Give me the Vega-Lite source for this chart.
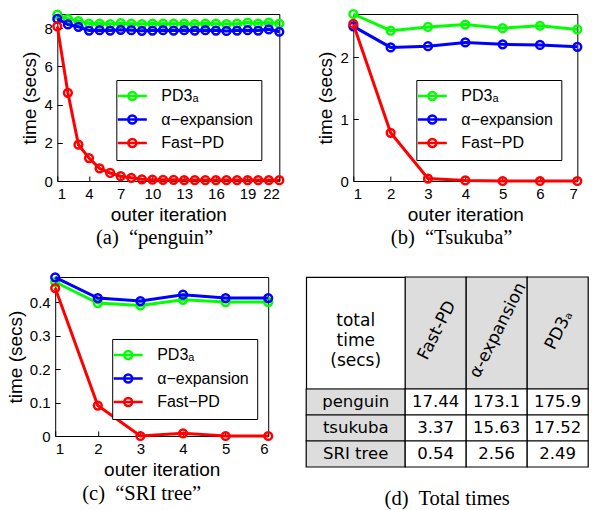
{
  "$schema": "https://vega.github.io/schema/vega-lite/v6.json",
  "background": "white",
  "padding": {"left": 5, "top": 4, "right": 0, "bottom": 0},
  "config": {
    "font": "Liberation Sans",
    "view": {"stroke": "black", "strokeWidth": 1},
    "axis": {
      "labelFont": "Liberation Sans", "labelFontSize": 15, "labelColor": "black",
      "titleFont": "Liberation Sans", "titleFontSize": 19, "titleFontWeight": "normal", "titleColor": "black",
      "grid": false, "domain": false, "ticks": true, "tickColor": "black", "tickSize": -5, "tickWidth": 1,
      "labelPadding": 10
    },
    "title": {"font": "Liberation Serif", "fontSize": 20.5, "fontWeight": "normal", "color": "black", "orient": "bottom", "anchor": "middle", "frame": "bounds", "offset": 4},
    "legend": {
      "title": null, "orient": "none", "direction": "vertical",
      "strokeColor": "black", "fillColor": "white", "padding": 8, "cornerRadius": 0,
      "symbolType": "M-2.9,0L2.9,0M0.8,0A0.8,0.8,0,1,1,-0.8,0A0.8,0.8,0,1,1,0.8,0Z",
      "symbolSize": 100, "symbolStrokeWidth": 2.5, "symbolFillColor": "transparent",
      "labelFont": "Liberation Sans, DejaVu Sans", "labelFontSize": 16, "labelColor": "black",
      "labelOffset": 21, "rowPadding": 5.5
    }
  },
  "resolve": {"scale": {"x": "independent", "y": "independent", "color": "independent"}, "legend": {"color": "independent"}},
  "center": true,
  "spacing": 18,
  "vconcat": [
    {
      "spacing": 27,
      "resolve": {"scale": {"x": "independent", "y": "independent", "color": "independent"}, "legend": {"color": "independent"}},
      "hconcat": [
        {
          "title": "(a)\u00a0 “penguin”",
          "width": 222, "height": 167,
          "data": {"values": [
            {"i":1,"m":"PD3ₐ","t":8.72},{"i":2,"m":"PD3ₐ","t":8.5},{"i":3,"m":"PD3ₐ","t":8.38},{"i":4,"m":"PD3ₐ","t":8.25},{"i":5,"m":"PD3ₐ","t":8.25},{"i":6,"m":"PD3ₐ","t":8.22},{"i":7,"m":"PD3ₐ","t":8.27},{"i":8,"m":"PD3ₐ","t":8.24},{"i":9,"m":"PD3ₐ","t":8.22},{"i":10,"m":"PD3ₐ","t":8.25},{"i":11,"m":"PD3ₐ","t":8.24},{"i":12,"m":"PD3ₐ","t":8.24},{"i":13,"m":"PD3ₐ","t":8.25},{"i":14,"m":"PD3ₐ","t":8.22},{"i":15,"m":"PD3ₐ","t":8.25},{"i":16,"m":"PD3ₐ","t":8.24},{"i":17,"m":"PD3ₐ","t":8.22},{"i":18,"m":"PD3ₐ","t":8.24},{"i":19,"m":"PD3ₐ","t":8.3},{"i":20,"m":"PD3ₐ","t":8.25},{"i":21,"m":"PD3ₐ","t":8.3},{"i":22,"m":"PD3ₐ","t":8.25},
            {"i":1,"m":"α−expansion","t":8.5},{"i":2,"m":"α−expansion","t":8.2},{"i":3,"m":"α−expansion","t":8.08},{"i":4,"m":"α−expansion","t":7.88},{"i":5,"m":"α−expansion","t":7.9},{"i":6,"m":"α−expansion","t":7.88},{"i":7,"m":"α−expansion","t":7.92},{"i":8,"m":"α−expansion","t":7.9},{"i":9,"m":"α−expansion","t":7.87},{"i":10,"m":"α−expansion","t":7.88},{"i":11,"m":"α−expansion","t":7.9},{"i":12,"m":"α−expansion","t":7.88},{"i":13,"m":"α−expansion","t":7.9},{"i":14,"m":"α−expansion","t":7.88},{"i":15,"m":"α−expansion","t":7.9},{"i":16,"m":"α−expansion","t":7.88},{"i":17,"m":"α−expansion","t":7.86},{"i":18,"m":"α−expansion","t":7.88},{"i":19,"m":"α−expansion","t":7.9},{"i":20,"m":"α−expansion","t":7.88},{"i":21,"m":"α−expansion","t":7.95},{"i":22,"m":"α−expansion","t":7.82},
            {"i":1,"m":"Fast−PD","t":8.1},{"i":2,"m":"Fast−PD","t":4.62},{"i":3,"m":"Fast−PD","t":1.9},{"i":4,"m":"Fast−PD","t":1.2},{"i":5,"m":"Fast−PD","t":0.66},{"i":6,"m":"Fast−PD","t":0.42},{"i":7,"m":"Fast−PD","t":0.25},{"i":8,"m":"Fast−PD","t":0.17},{"i":9,"m":"Fast−PD","t":0.09},{"i":10,"m":"Fast−PD","t":0.07},{"i":11,"m":"Fast−PD","t":0.06},{"i":12,"m":"Fast−PD","t":0.06},{"i":13,"m":"Fast−PD","t":0.05},{"i":14,"m":"Fast−PD","t":0.05},{"i":15,"m":"Fast−PD","t":0.05},{"i":16,"m":"Fast−PD","t":0.05},{"i":17,"m":"Fast−PD","t":0.05},{"i":18,"m":"Fast−PD","t":0.05},{"i":19,"m":"Fast−PD","t":0.05},{"i":20,"m":"Fast−PD","t":0.05},{"i":21,"m":"Fast−PD","t":0.05},{"i":22,"m":"Fast−PD","t":0.04}
          ]},
          "encoding": {
            "x": {"field": "i", "type": "quantitative", "scale": {"domain": [1, 22], "nice": false, "zero": false}, "axis": {"title": "outer iteration", "values": [1,4,7,10,13,16,19,22]}},
            "y": {"field": "t", "type": "quantitative", "scale": {"domain": [0, 8.75], "nice": false}, "axis": {"title": "time (secs)", "values": [0,2,4,6,8]}},
            "color": {"field": "m", "type": "nominal", "scale": {"domain": ["PD3ₐ","α−expansion","Fast−PD"], "range": ["#00ff00","#0000ff","#ff0000"]}, "legend": {"legendX": 59, "legendY": 66}}
          },
          "layer": [
            {"transform": [{"filter": {"field": "m", "equal": "PD3ₐ"}}], "mark": {"type": "line", "strokeWidth": 3, "point": {"filled": false, "size": 60, "strokeWidth": 2.5}}},
            {"transform": [{"filter": {"field": "m", "equal": "α−expansion"}}], "mark": {"type": "line", "strokeWidth": 3, "point": {"filled": false, "size": 60, "strokeWidth": 2.5}}},
            {"transform": [{"filter": {"field": "m", "equal": "Fast−PD"}}], "mark": {"type": "line", "strokeWidth": 3, "point": {"filled": false, "size": 60, "strokeWidth": 2.5}}}
          ]
        },
        {
          "title": "(b)\u00a0 “Tsukuba”",
          "width": 224, "height": 167,
          "data": {"values": [
            {"i":1,"m":"PD3ₐ","t":2.7},{"i":2,"m":"PD3ₐ","t":2.43},{"i":3,"m":"PD3ₐ","t":2.49},{"i":4,"m":"PD3ₐ","t":2.53},{"i":5,"m":"PD3ₐ","t":2.47},{"i":6,"m":"PD3ₐ","t":2.51},{"i":7,"m":"PD3ₐ","t":2.45},
            {"i":1,"m":"α−expansion","t":2.5},{"i":2,"m":"α−expansion","t":2.16},{"i":3,"m":"α−expansion","t":2.18},{"i":4,"m":"α−expansion","t":2.24},{"i":5,"m":"α−expansion","t":2.21},{"i":6,"m":"α−expansion","t":2.2},{"i":7,"m":"α−expansion","t":2.17},
            {"i":1,"m":"Fast−PD","t":2.54},{"i":2,"m":"Fast−PD","t":0.78},{"i":3,"m":"Fast−PD","t":0.04},{"i":4,"m":"Fast−PD","t":0.01},{"i":5,"m":"Fast−PD","t":0.0},{"i":6,"m":"Fast−PD","t":0.0},{"i":7,"m":"Fast−PD","t":0.0}
          ]},
          "encoding": {
            "x": {"field": "i", "type": "quantitative", "scale": {"domain": [1, 7], "nice": false, "zero": false}, "axis": {"title": "outer iteration", "values": [1,2,3,4,5,6,7]}},
            "y": {"field": "t", "type": "quantitative", "scale": {"domain": [0, 2.7], "nice": false}, "axis": {"title": "time (secs)", "values": [0,1,2]}},
            "color": {"field": "m", "type": "nominal", "scale": {"domain": ["PD3ₐ","α−expansion","Fast−PD"], "range": ["#00ff00","#0000ff","#ff0000"]}, "legend": {"legendX": 63, "legendY": 66}}
          },
          "layer": [
            {"transform": [{"filter": {"field": "m", "equal": "PD3ₐ"}}], "mark": {"type": "line", "strokeWidth": 3, "point": {"filled": false, "size": 60, "strokeWidth": 2.5}}},
            {"transform": [{"filter": {"field": "m", "equal": "α−expansion"}}], "mark": {"type": "line", "strokeWidth": 3, "point": {"filled": false, "size": 60, "strokeWidth": 2.5}}},
            {"transform": [{"filter": {"field": "m", "equal": "Fast−PD"}}], "mark": {"type": "line", "strokeWidth": 3, "point": {"filled": false, "size": 60, "strokeWidth": 2.5}}}
          ]
        }
      ]
    },
    {
      "spacing": 27,
      "resolve": {"scale": {"x": "independent", "y": "independent", "color": "independent"}, "legend": {"color": "independent"}},
      "hconcat": [
        {
          "title": {"text": "(c)\u00a0 “SRI tree”", "offset": 5},
          "width": 213, "height": 159,
          "data": {"values": [
            {"i":1,"m":"PD3ₐ","t":0.46},{"i":2,"m":"PD3ₐ","t":0.397},{"i":3,"m":"PD3ₐ","t":0.39},{"i":4,"m":"PD3ₐ","t":0.407},{"i":5,"m":"PD3ₐ","t":0.4},{"i":6,"m":"PD3ₐ","t":0.4},
            {"i":1,"m":"α−expansion","t":0.474},{"i":2,"m":"α−expansion","t":0.412},{"i":3,"m":"α−expansion","t":0.403},{"i":4,"m":"α−expansion","t":0.422},{"i":5,"m":"α−expansion","t":0.412},{"i":6,"m":"α−expansion","t":0.412},
            {"i":1,"m":"Fast−PD","t":0.442},{"i":2,"m":"Fast−PD","t":0.091},{"i":3,"m":"Fast−PD","t":0.0},{"i":4,"m":"Fast−PD","t":0.008},{"i":5,"m":"Fast−PD","t":0.0},{"i":6,"m":"Fast−PD","t":0.0}
          ]},
          "encoding": {
            "x": {"field": "i", "type": "quantitative", "scale": {"domain": [1, 6], "nice": false, "zero": false}, "axis": {"title": "outer iteration", "values": [1,2,3,4,5,6]}},
            "y": {"field": "t", "type": "quantitative", "scale": {"domain": [0, 0.475], "nice": false}, "axis": {"title": "time (secs)", "values": [0,0.1,0.2,0.3,0.4], "format": ".1~f"}},
            "color": {"field": "m", "type": "nominal", "scale": {"domain": ["PD3ₐ","α−expansion","Fast−PD"], "range": ["#00ff00","#0000ff","#ff0000"]}, "legend": {"legendX": 57, "legendY": 62}}
          },
          "layer": [
            {"transform": [{"filter": {"field": "m", "equal": "PD3ₐ"}}], "mark": {"type": "line", "strokeWidth": 3, "point": {"filled": false, "size": 60, "strokeWidth": 2.5}}},
            {"transform": [{"filter": {"field": "m", "equal": "α−expansion"}}], "mark": {"type": "line", "strokeWidth": 3, "point": {"filled": false, "size": 60, "strokeWidth": 2.5}}},
            {"transform": [{"filter": {"field": "m", "equal": "Fast−PD"}}], "mark": {"type": "line", "strokeWidth": 3, "point": {"filled": false, "size": 60, "strokeWidth": 2.5}}}
          ]
        },
        {
          "title": {"text": "(d)\u00a0 Total times", "offset": 21},
          "columns": 2,
          "spacing": 0,
          "bounds": "flush",
          "align": "each",
          "resolve": {"scale": {"x": "independent", "y": "independent"}},
          "concat": [
            {
              "width": 99, "height": 112,
              "view": {"fill": "white", "stroke": "black", "strokeWidth": 1.2},
              "data": {"values": [{"h": "total\ntime\n(secs)"}]},
              "mark": {"type": "text", "lineBreak": "\n", "lineHeight": 20, "font": "DejaVu Sans", "fontSize": 17, "color": "black", "dy": -12},
              "encoding": {"text": {"field": "h", "type": "nominal"}}
            },
            {
              "width": 183, "height": 112,
              "view": {"stroke": null},
              "data": {"values": [{"c": "Fast-PD"}, {"c": "α-expansion"}, {"c": "PD3ₐ"}]},
              "encoding": {"x": {"field": "c", "type": "nominal", "sort": null, "scale": {"paddingInner": 0, "paddingOuter": 0}, "axis": null}},
              "layer": [
                {"mark": {"type": "rect", "fill": "#dddddd", "stroke": "black", "strokeWidth": 1.2}},
                {"mark": {"type": "text", "angle": -63, "font": "DejaVu Sans", "fontSize": 17, "color": "black", "dy": 0, "dx": 3}, "encoding": {"text": {"field": "c", "type": "nominal"}}}
              ]
            },
            {
              "width": 99, "height": 78,
              "view": {"stroke": null},
              "data": {"values": [{"r": "penguin"}, {"r": "tsukuba"}, {"r": "SRI tree"}]},
              "encoding": {"y": {"field": "r", "type": "nominal", "sort": null, "scale": {"paddingInner": 0, "paddingOuter": 0}, "axis": null}},
              "layer": [
                {"mark": {"type": "rect", "fill": "#dddddd", "stroke": "black", "strokeWidth": 1.2}},
                {"mark": {"type": "text", "font": "DejaVu Sans", "fontSize": 16.5, "color": "black"}, "encoding": {"text": {"field": "r", "type": "nominal"}}}
              ]
            },
            {
              "width": 183, "height": 78,
              "view": {"stroke": null},
              "data": {"values": [
                {"r": "penguin", "c": "Fast-PD", "v": "17.44"}, {"r": "penguin", "c": "α-expansion", "v": "173.1"}, {"r": "penguin", "c": "PD3ₐ", "v": "175.9"},
                {"r": "tsukuba", "c": "Fast-PD", "v": "3.37"}, {"r": "tsukuba", "c": "α-expansion", "v": "15.63"}, {"r": "tsukuba", "c": "PD3ₐ", "v": "17.52"},
                {"r": "SRI tree", "c": "Fast-PD", "v": "0.54"}, {"r": "SRI tree", "c": "α-expansion", "v": "2.56"}, {"r": "SRI tree", "c": "PD3ₐ", "v": "2.49"}
              ]},
              "encoding": {
                "x": {"field": "c", "type": "nominal", "sort": ["Fast-PD", "α-expansion", "PD3ₐ"], "scale": {"paddingInner": 0, "paddingOuter": 0}, "axis": null},
                "y": {"field": "r", "type": "nominal", "sort": ["penguin", "tsukuba", "SRI tree"], "scale": {"paddingInner": 0, "paddingOuter": 0}, "axis": null}
              },
              "layer": [
                {"mark": {"type": "rect", "fill": "white", "stroke": "black", "strokeWidth": 1.2}},
                {"mark": {"type": "text", "font": "DejaVu Sans", "fontSize": 16.5, "color": "black"}, "encoding": {"text": {"field": "v", "type": "nominal"}}}
              ]
            }
          ]
        }
      ]
    }
  ]
}
